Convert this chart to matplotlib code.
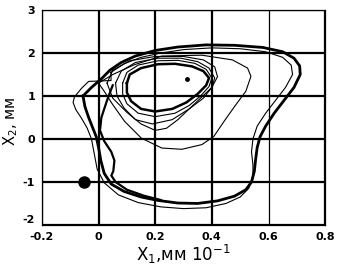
import matplotlib
matplotlib.use("Agg")
import matplotlib.pyplot as plt

# ---- data ----
x_ticks = [-0.2, 0, 0.2, 0.4, 0.6, 0.8]
x_tick_labels = ["-0.2", "0", "0.2", "0.4", "0.6", "0.8"]
y_ticks = [-2, -1, 0, 1, 2, 3]
y_tick_labels = ["-2", "-1", "0", "1", "2", "3"]

outer_thick_x = [-0.055, -0.048, -0.035, -0.020, -0.008, 0.000, 0.008, 0.020, 0.045, 0.090, 0.150, 0.210, 0.280, 0.350, 0.420, 0.480, 0.520, 0.540, 0.550, 0.555, 0.560, 0.570, 0.590, 0.620, 0.655, 0.690, 0.712, 0.710, 0.690, 0.650, 0.580, 0.480, 0.380, 0.280, 0.200, 0.130, 0.080, 0.040, 0.010, -0.025, -0.055]
outer_thick_y = [1.00, 0.75, 0.50, 0.25, 0.05, -0.20, -0.50, -0.80, -1.05, -1.22, -1.35, -1.43, -1.49, -1.50, -1.44, -1.33, -1.18, -1.00, -0.75, -0.45, -0.20, 0.05, 0.30, 0.60, 0.90, 1.20, 1.50, 1.70, 1.88, 2.03, 2.13, 2.18, 2.19, 2.14, 2.06, 1.93, 1.78, 1.60, 1.40, 1.20, 1.00]

outer_thin_x = [0.044, 0.044, -0.035, -0.060, -0.085, -0.090, -0.080, -0.060, -0.040, -0.025, -0.015, -0.005, 0.020, 0.070, 0.140, 0.220, 0.300, 0.380, 0.450, 0.500, 0.530, 0.545, 0.545, 0.540, 0.545, 0.560, 0.590, 0.625, 0.660, 0.685, 0.680, 0.650, 0.590, 0.500, 0.400, 0.300, 0.220, 0.150, 0.090, 0.044]
outer_thin_y = [1.55, 1.36, 1.34, 1.18, 0.98, 0.85, 0.68, 0.48, 0.25, 0.00, -0.35, -0.70, -1.02, -1.30, -1.48, -1.58, -1.62, -1.60, -1.50, -1.35, -1.15, -0.90, -0.60, -0.30, 0.00, 0.30, 0.60, 0.90, 1.20, 1.50, 1.72, 1.90, 2.03, 2.10, 2.12, 2.08, 2.00, 1.90, 1.75, 1.55]

mid_loop_x = [0.000, 0.050, 0.127, 0.223, 0.365, 0.473, 0.526, 0.538, 0.520, 0.485, 0.443, 0.407, 0.365, 0.294, 0.223, 0.151, 0.092, 0.050, 0.020, 0.000]
mid_loop_y = [1.30, 1.50, 1.73, 1.93, 1.95, 1.84, 1.65, 1.46, 1.11, 0.80, 0.41, 0.06, -0.13, -0.24, -0.21, 0.02, 0.41, 0.80, 1.11, 1.30]

inner1_x = [0.10, 0.11, 0.15, 0.21, 0.27, 0.33, 0.37, 0.39, 0.38, 0.35, 0.31, 0.26, 0.20, 0.15, 0.115, 0.10, 0.10]
inner1_y = [1.30, 1.50, 1.65, 1.74, 1.75, 1.69, 1.58, 1.42, 1.25, 1.05, 0.85, 0.70, 0.64, 0.70, 0.88, 1.08, 1.30]

inner2_x = [0.085, 0.10, 0.14, 0.21, 0.28, 0.34, 0.38, 0.40, 0.39, 0.36, 0.32, 0.27, 0.20, 0.14, 0.10, 0.085, 0.085]
inner2_y = [1.30, 1.55, 1.72, 1.82, 1.83, 1.76, 1.62, 1.42, 1.22, 1.00, 0.78, 0.60, 0.52, 0.60, 0.82, 1.05, 1.30]

inner3_x = [0.06, 0.08, 0.13, 0.21, 0.29, 0.35, 0.39, 0.41, 0.40, 0.37, 0.32, 0.26, 0.19, 0.13, 0.09, 0.065, 0.06]
inner3_y = [1.30, 1.58, 1.78, 1.88, 1.88, 1.80, 1.65, 1.42, 1.20, 0.95, 0.70, 0.45, 0.35, 0.45, 0.72, 1.00, 1.30]

inner4_x = [0.03, 0.05, 0.11, 0.20, 0.30, 0.37, 0.41, 0.42, 0.40, 0.36, 0.32, 0.28, 0.24, 0.20, 0.15, 0.10, 0.05, 0.03]
inner4_y = [1.30, 1.60, 1.82, 1.92, 1.92, 1.84, 1.68, 1.45, 1.20, 0.95, 0.70, 0.45, 0.25, 0.20, 0.35, 0.62, 0.95, 1.30]

descent_x = [0.05, 0.03, 0.01, 0.005, 0.02, 0.045, 0.056, 0.052, 0.045, 0.06, 0.10, 0.16, 0.22]
descent_y = [1.25, 0.90, 0.50, 0.20, -0.05, -0.30, -0.50, -0.75, -0.85, -1.00, -1.18, -1.32, -1.42]

start_point = (-0.05, -1.0)
fixed_point = (0.312, 1.40)

# ---- figure ----
fig = plt.figure(figsize=(3.38, 2.72), dpi=100)
ax = fig.add_axes([0.124, 0.173, 0.838, 0.79])

ax.set_xlim(-0.2, 0.8)
ax.set_ylim(-2, 3)
ax.set_axisbelow(True)
ax.grid(True, color="black", linewidth=1.6)
for gl, v in zip(ax.get_xgridlines(), x_ticks):
    if abs(v - 0.6) < 1e-9:
        gl.set_linewidth(0.9)

ax.plot(outer_thick_x, outer_thick_y, color="black", lw=2.0)
ax.plot(outer_thin_x, outer_thin_y, color="black", lw=0.8)
ax.plot(mid_loop_x, mid_loop_y, color="black", lw=0.8)
ax.plot(inner1_x, inner1_y, color="black", lw=1.8)
ax.plot(inner2_x, inner2_y, color="black", lw=0.8)
ax.plot(inner3_x, inner3_y, color="black", lw=0.8)
ax.plot(inner4_x, inner4_y, color="black", lw=0.8)
ax.plot(descent_x, descent_y, color="black", lw=1.6)
ax.plot([start_point[0]], [start_point[1]], "o", color="black", ms=8)
ax.plot([fixed_point[0]], [fixed_point[1]], "o", color="black", ms=2.5)

tick_font = dict(family="DejaVu Sans", fontweight="bold", fontsize=8)
ax.set_xticks(x_ticks)
ax.set_xticklabels(x_tick_labels, **tick_font)
ax.set_yticks(y_ticks)
ax.set_yticklabels(y_tick_labels, **tick_font)
ax.tick_params(axis="x", length=0, pad=5)
ax.tick_params(axis="y", length=0, pad=5)
ylabels = ax.get_yticklabels()
ylabels[0].set_verticalalignment("bottom")
for s in ax.spines.values():
    s.set_linewidth(0.9)

ax.set_xlabel(r"X$_1$,мм 10$^{-1}$", fontsize=12, labelpad=1)
ax.set_ylabel(r"X$_2$, мм", fontsize=10.5, ha="center", va="center")
ax.yaxis.set_label_coords(-0.112, 0.48)

fig.savefig("out.png", dpi=100)
